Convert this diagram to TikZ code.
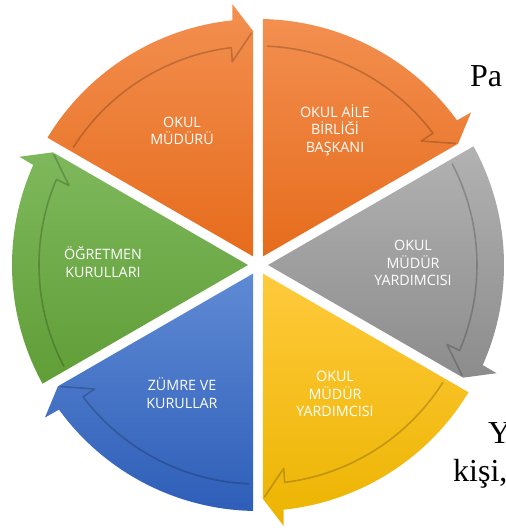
\documentclass[tikz,border=0pt]{standalone}
\usepackage{fontspec}
\newfontfamily\osans{Open Sans}
\newfontfamily\lserif{Liberation Serif}
\usetikzlibrary{calc}
\definecolor{orT}{RGB}{243,143,80}
\definecolor{orB}{RGB}{230,108,28}
\definecolor{grT}{RGB}{178,178,178}
\definecolor{grB}{RGB}{140,140,140}
\definecolor{yeT}{RGB}{255,202,60}
\definecolor{yeB}{RGB}{236,180,0}
\definecolor{blT}{RGB}{95,138,212}
\definecolor{blB}{RGB}{46,94,184}
\definecolor{gnT}{RGB}{126,184,92}
\definecolor{gnB}{RGB}{96,158,55}
\newcommand\cycseg[3]{%
  \path[top color=#2, bottom color=#3]
    ($(c)+({#1+30}:10)$) -- ($(c)+({#1+58.84}:246)$)
    arc[start angle={#1+58.84}, end angle={#1+6}, radius=246]
    -- ($(c)+({#1+5.6}:262)$) -- ($(c)+({#1+1.22}:234)$) -- cycle;
  \draw[arrshadow] ($(c)+({#1+57.5}:219)$)
    arc[start angle={#1+57.5}, end angle={#1+7}, radius=219]
    -- ($(c)+({#1+7.2}:205)$) -- ($(c)+({#1+1.6}:232)$);
}
\begin{document}
\begin{tikzpicture}[x=1pt,y=1pt,
  lbl/.style={text=white, align=center, inner sep=0pt,
    font=\osans\fontsize{14.3}{17.7}\selectfont},
  outtxt/.style={anchor=base west, inner sep=0pt,
    font=\lserif\fontsize{32}{32}\selectfont},
  arrshadow/.style={draw=black, line width=1.6pt, opacity=0.2,
    line join=round, line cap=round},
]
\useasboundingbox (0,0) rectangle (506,531);
\clip (0,0) rectangle (506,531);
\fill[white] (0,0) rectangle (506,531);
\coordinate (c) at (258,266);

\cycseg{90}{orT}{orB}
\cycseg{30}{orT}{orB}
\cycseg{-30}{grT}{grB}
\cycseg{-90}{yeT}{yeB}
\cycseg{-150}{blT}{blB}
\cycseg{150}{gnT}{gnB}

\node[lbl] (okm) at (182,400) {OKUL\\MÜDÜRÜ};
\node[lbl] (oab) at (335,401) {OKUL AİLE\\BİRLİĞİ\\BAŞKANI};
\node[lbl] (omy1) at (413,268) {OKUL\\MÜDÜR\\YARDIMCISI};
\node[lbl] (omy2) at (335,137) {OKUL\\MÜDÜR\\YARDIMCISI};
\node[lbl] (zvk) at (182,138) {ZÜMRE VE\\KURULLAR};
\node[lbl] (ogk) at (103,269) {ÖĞRETMEN\\KURULLARI};

\node[outtxt] (pa) at (470,444) {Pa};
\node[outtxt] (yy) at (488,87) {Y};
\node[outtxt] (ks) at (453,49) {kişi,};
\end{tikzpicture}
\end{document}
